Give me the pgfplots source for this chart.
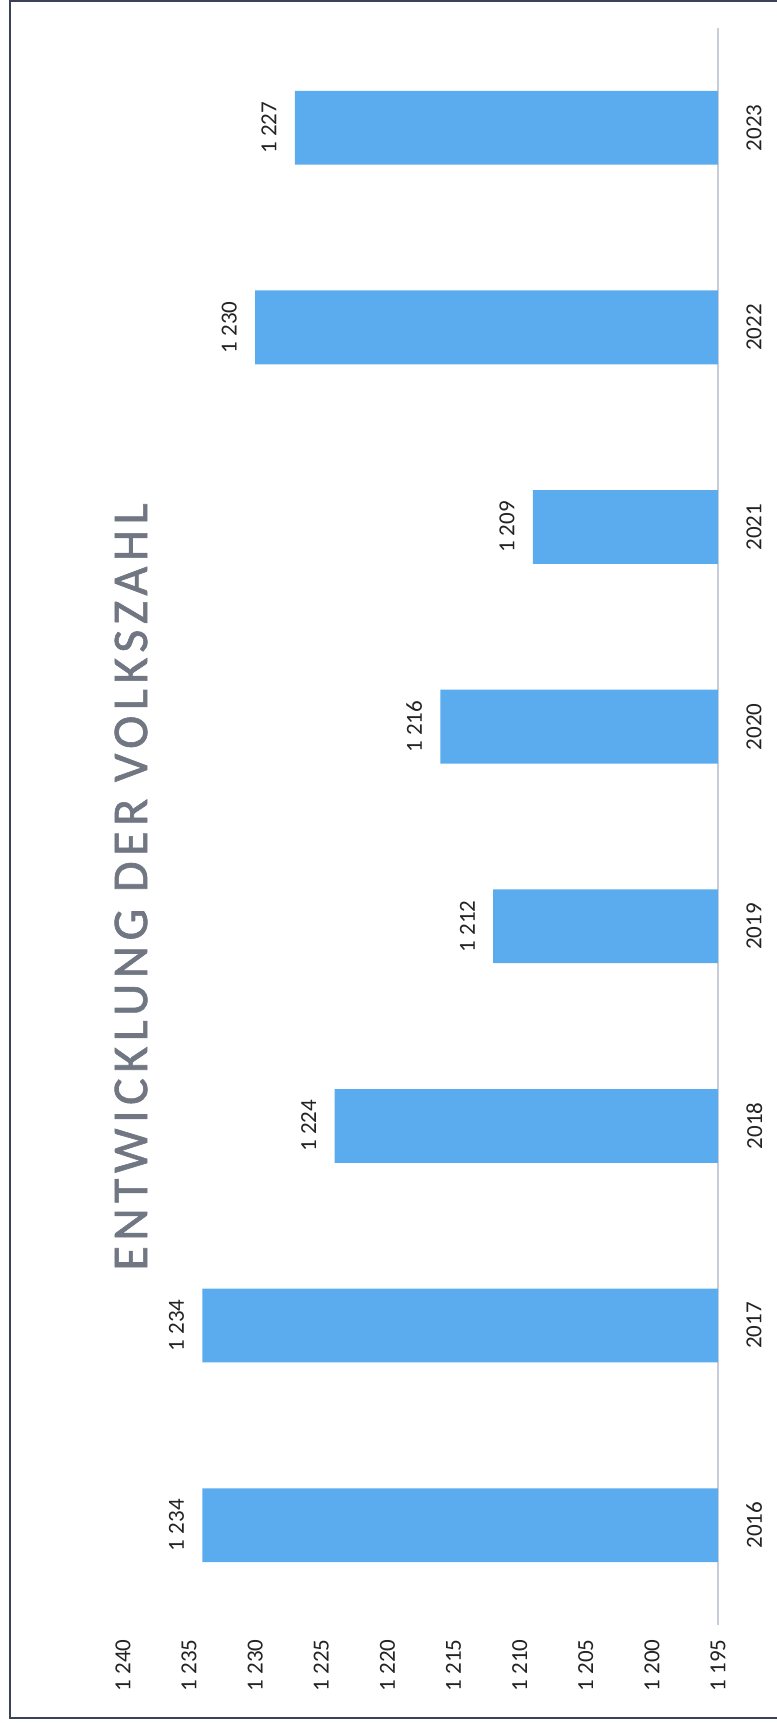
\documentclass[border=0pt]{standalone}
\usepackage{fontspec}
\setmainfont{Carlito}
\newfontfamily\titlefont[LetterSpace=11,FakeBold=1.2]{Carlito}
\usepackage{pgfplots}
\pgfplotsset{compat=1.18}
\definecolor{barcol}{RGB}{90,172,238}
\definecolor{axcol}{RGB}{200,205,218}
\definecolor{titlecol}{RGB}{112,118,130}
\definecolor{framecol}{RGB}{60,65,90}
\definecolor{lblcol}{RGB}{35,35,35}
\begin{document}
\begin{tikzpicture}
\path[use as bounding box] (0pt,0pt) rectangle (388pt,861.5pt);
\draw[framecol, line width=1pt] (5pt,2.5pt) rectangle (392pt,861pt);
\begin{axis}[
  at={(61.5pt,49pt)}, anchor=south west,
  scale only axis, width=297.5pt, height=798.5pt,
  xbar, bar width=0.37,
  x dir=reverse,
  xmin=1195, xmax=1240,
  ymin=2015.5, ymax=2023.5,
  enlargelimits=false,
  xtick={1195,1200,...,1240},
  ytick={2016,2017,...,2023},
  yticklabels={2016,2017,2018,2019,2020,2021,2022,2023},
  major tick length=0pt,
  axis x line*=bottom,
  axis y line*=right,
  x axis line style={draw=none},
  y axis line style={draw=axcol, line width=1pt},
  /pgf/number format/assume math mode=true,
  /pgf/number format/1000 sep={\ },
  tick label style={font=\fontsize{11.5}{13}\selectfont, text=lblcol, inner sep=0pt},
  xticklabel style={yshift=-7pt, rotate=90, anchor=east},
  yticklabel style={xshift=14pt, rotate=90, anchor=north},
  point meta=x,
  nodes near coords,
  every node near coord/.append style={font=\fontsize{11.5}{13}\selectfont, text=lblcol, inner sep=0pt, xshift=-9pt, rotate=90, anchor=south},
]
\addplot[fill=barcol, draw=none] coordinates {
  (1234,2016) (1234,2017) (1224,2018) (1212,2019)
  (1216,2020) (1209,2021) (1230,2022) (1227,2023)
};
\end{axis}
\node[rotate=90, text=titlecol, font=\titlefont\fontsize{25}{29}\selectfont] at (65.5pt,418pt) {ENTWICKLUNG DER VOLKSZAHL};
\end{tikzpicture}
\end{document}
